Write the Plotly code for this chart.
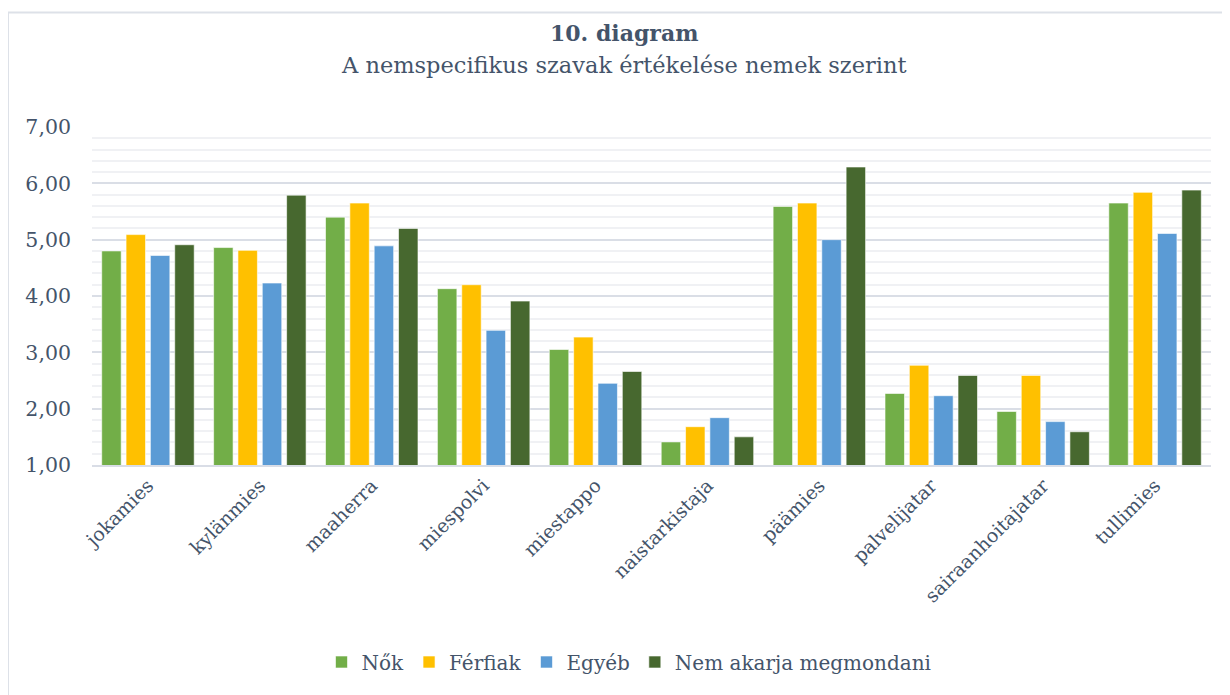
import plotly.graph_objects as go

categories = ["jokamies", "kylänmies", "maaherra", "miespolvi", "miestappo",
              "naistarkistaja", "päämies", "palvelijatar", "sairaanhoitajatar", "tullimies"]
nok = [4.80, 4.86, 5.40, 4.13, 3.05, 1.41, 5.59, 2.27, 1.95, 5.65]
ferfiak = [5.09, 4.81, 5.65, 4.20, 3.27, 1.68, 5.65, 2.77, 2.59, 5.84]
egyeb = [4.72, 4.23, 4.89, 3.39, 2.45, 1.84, 5.00, 2.23, 1.77, 5.11]
nem_akarja = [4.91, 5.79, 5.20, 3.91, 2.66, 1.50, 6.29, 2.59, 1.59, 5.88]
series_names = ["Nők", "Férfiak", "Egyéb", "Nem akarja megmondani"]
y_ticks = [1, 2, 3, 4, 5, 6, 7]

colors = ["#72AE48", "#FFC000", "#5B9BD5", "#47682F"]
txt = "#44546A"
font = "DejaVu Serif"

OFF = 8  # page body margin
W, H = 1230 - OFF, 695 - OFF
# reference-pixel plot box
PL, PR, PT, PB = 92, 1211, 127, 465
L, T = PL - OFF, PT - OFF
R = W - (PR - OFF)
B = H - (PB - OFF)
pw, ph = PR - PL, PB - PT
def px(x):
    return (x - PL) / pw
def py(y):
    return (PB - y) / ph

fig = go.Figure()
for name, vals, c in zip(series_names, [nok, ferfiak, egyeb, nem_akarja], colors):
    fig.add_trace(go.Bar(x=categories, y=vals, name=name,
                         marker=dict(color=c, line=dict(color="rgba(255,255,255,0.6)", width=1))))

fig.update_layout(
    width=W, height=H,
    margin=dict(l=L, r=R, t=T, b=B),
    paper_bgcolor="white", plot_bgcolor="white",
    separators=", ",
    barmode="group", bargap=0.13, bargroupgap=0.2,
    font=dict(family=font, color=txt, size=20),
    showlegend=True,
    legend=dict(orientation="h", x=px(629), y=py(662), xanchor="center", yanchor="middle",
                font=dict(size=20, color=txt), itemwidth=30, traceorder="normal"),
    xaxis=dict(tickangle=-45, tickfont=dict(size=19, color=txt), showline=True,
               linecolor="#D9DDE6", linewidth=2, showgrid=False, ticks=""),
    yaxis=dict(range=[1, 7], tickvals=y_ticks, tickformat=".2f", tickfont=dict(size=20.5, color=txt),
               showgrid=True, gridcolor="#DADEE6", gridwidth=1.5, zeroline=False,
               ticklabelstandoff=20,
               minor=dict(dtick=0.2, showgrid=True, gridcolor="#F0F1F4", gridwidth=1.5)),
    annotations=[
        dict(text="<b>10. diagram</b>", x=px(624), y=py(33), xref="paper", yref="paper",
             showarrow=False, font=dict(size=22, color=txt, family=font), xanchor="center", yanchor="middle"),
        dict(text="A nemspecifikus szavak értékelése nemek szerint", x=px(624), y=py(65),
             xref="paper", yref="paper", showarrow=False,
             font=dict(size=22.5, color=txt, family=font), xanchor="center", yanchor="middle"),
    ],
    shapes=[
        dict(type="line", xref="paper", yref="paper", x0=px(8), x1=px(1230), y0=py(12.5), y1=py(12.5),
             line=dict(color="#DDE1E8", width=2)),
        dict(type="line", xref="paper", yref="paper", x0=px(8), x1=px(8), y0=py(12.5), y1=py(695),
             line=dict(color="#DDE1E8", width=2)),
    ],
)

fig.write_html("out.html")
